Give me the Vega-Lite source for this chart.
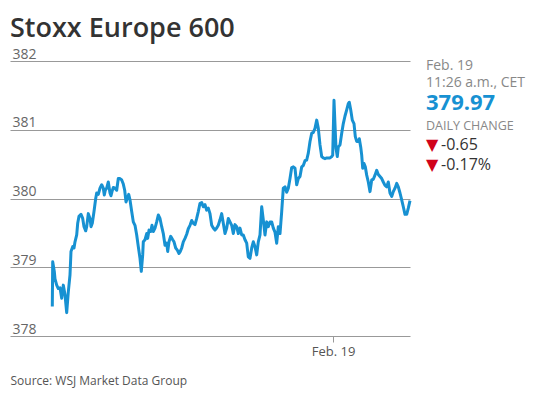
{
  "$schema": "https://vega.github.io/schema/vega-lite/v6.json",
  "padding": {"left": 10, "top": 15, "right": 5, "bottom": 5},
  "background": "white",
  "config": {"view": {"stroke": null}, "font": "Open Sans"},
  "title": {"text": "Stoxx Europe 600", "anchor": "start", "font": "Open Sans", "fontSize": 27, "fontWeight": 600, "color": "#333333", "baseline": "alphabetic", "offset": -17},
  "spacing": 14,
  "hconcat": [
    {
      "width": 400,
      "height": 275,
      "data": {"values": [
        {"t": 42.3, "v": 378.43}, {"t": 42.7, "v": 379.08}, {"t": 44.3, "v": 378.94}, {"t": 45.0, "v": 378.83}, {"t": 46.7, "v": 378.74}, {"t": 48.3, "v": 378.69}, {"t": 50.0, "v": 378.70}, {"t": 51.7, "v": 378.55}, {"t": 53.3, "v": 378.74}, {"t": 55.0, "v": 378.60}, {"t": 56.7, "v": 378.34}, {"t": 58.3, "v": 378.64}, {"t": 60.0, "v": 378.89}, {"t": 61.0, "v": 379.23}, {"t": 62.7, "v": 379.30}, {"t": 64.0, "v": 379.28}, {"t": 65.0, "v": 379.37}, {"t": 66.7, "v": 379.47}, {"t": 67.7, "v": 379.64}, {"t": 69.0, "v": 379.74}, {"t": 71.0, "v": 379.77}, {"t": 72.7, "v": 379.71}, {"t": 74.0, "v": 379.59}, {"t": 75.7, "v": 379.53}, {"t": 76.7, "v": 379.59}, {"t": 78.3, "v": 379.78}, {"t": 80.0, "v": 379.71}, {"t": 81.0, "v": 379.59}, {"t": 82.3, "v": 379.64}, {"t": 84.0, "v": 379.81}, {"t": 85.7, "v": 380.00}, {"t": 86.7, "v": 380.08}, {"t": 88.3, "v": 380.06}, {"t": 90.0, "v": 380.15}, {"t": 91.7, "v": 380.20}, {"t": 93.3, "v": 380.15}, {"t": 94.3, "v": 380.05}, {"t": 95.3, "v": 380.12}, {"t": 96.7, "v": 380.15}, {"t": 98.3, "v": 380.24}, {"t": 100.0, "v": 380.08}, {"t": 101.0, "v": 380.04}, {"t": 102.0, "v": 380.10}, {"t": 103.3, "v": 380.16}, {"t": 105.0, "v": 380.15}, {"t": 106.7, "v": 380.12}, {"t": 108.3, "v": 380.29}, {"t": 110.0, "v": 380.29}, {"t": 111.7, "v": 380.27}, {"t": 113.3, "v": 380.21}, {"t": 114.7, "v": 380.12}, {"t": 116.0, "v": 379.95}, {"t": 117.3, "v": 380.00}, {"t": 118.7, "v": 380.06}, {"t": 120.0, "v": 379.98}, {"t": 121.7, "v": 379.81}, {"t": 123.3, "v": 379.66}, {"t": 125.0, "v": 379.61}, {"t": 126.7, "v": 379.47}, {"t": 128.3, "v": 379.30}, {"t": 130.0, "v": 379.13}, {"t": 131.3, "v": 378.94}, {"t": 132.7, "v": 379.18}, {"t": 133.3, "v": 379.37}, {"t": 135.0, "v": 379.40}, {"t": 136.7, "v": 379.49}, {"t": 137.7, "v": 379.42}, {"t": 139.0, "v": 379.54}, {"t": 140.7, "v": 379.52}, {"t": 142.0, "v": 379.61}, {"t": 143.3, "v": 379.52}, {"t": 145.0, "v": 379.57}, {"t": 146.7, "v": 379.66}, {"t": 148.3, "v": 379.76}, {"t": 150.0, "v": 379.71}, {"t": 151.7, "v": 379.59}, {"t": 153.3, "v": 379.49}, {"t": 155.0, "v": 379.32}, {"t": 156.7, "v": 379.35}, {"t": 157.7, "v": 379.23}, {"t": 159.0, "v": 379.37}, {"t": 160.7, "v": 379.45}, {"t": 162.7, "v": 379.40}, {"t": 164.0, "v": 379.37}, {"t": 165.7, "v": 379.28}, {"t": 167.3, "v": 379.25}, {"t": 169.0, "v": 379.20}, {"t": 170.3, "v": 379.23}, {"t": 171.7, "v": 379.28}, {"t": 173.3, "v": 379.37}, {"t": 175.0, "v": 379.42}, {"t": 176.7, "v": 379.48}, {"t": 178.3, "v": 379.56}, {"t": 180.0, "v": 379.61}, {"t": 181.7, "v": 379.68}, {"t": 183.3, "v": 379.64}, {"t": 185.0, "v": 379.62}, {"t": 186.7, "v": 379.71}, {"t": 188.3, "v": 379.81}, {"t": 190.0, "v": 379.93},
        {"t": 191.7, "v": 379.94}, {"t": 193.3, "v": 379.88}, {"t": 195.0, "v": 379.91}, {"t": 196.7, "v": 379.83}, {"t": 198.3, "v": 379.86}, {"t": 200.0, "v": 379.78}, {"t": 201.7, "v": 379.61}, {"t": 203.3, "v": 379.57}, {"t": 205.0, "v": 379.54}, {"t": 206.7, "v": 379.57}, {"t": 208.3, "v": 379.61}, {"t": 210.0, "v": 379.69}, {"t": 211.7, "v": 379.78}, {"t": 213.3, "v": 379.64}, {"t": 215.0, "v": 379.49}, {"t": 216.7, "v": 379.57}, {"t": 218.3, "v": 379.71}, {"t": 220.0, "v": 379.66}, {"t": 221.7, "v": 379.61}, {"t": 223.3, "v": 379.49}, {"t": 225.0, "v": 379.62}, {"t": 226.7, "v": 379.59}, {"t": 228.3, "v": 379.49}, {"t": 230.0, "v": 379.57}, {"t": 231.7, "v": 379.47}, {"t": 233.3, "v": 379.47}, {"t": 235.0, "v": 379.40}, {"t": 236.7, "v": 379.35}, {"t": 238.3, "v": 379.15}, {"t": 240.0, "v": 379.13}, {"t": 241.7, "v": 379.28}, {"t": 243.3, "v": 379.37}, {"t": 245.0, "v": 379.30}, {"t": 246.7, "v": 379.18}, {"t": 248.3, "v": 379.37}, {"t": 250.0, "v": 379.47}, {"t": 251.7, "v": 379.88}, {"t": 253.3, "v": 379.69}, {"t": 255.0, "v": 379.47}, {"t": 256.7, "v": 379.66}, {"t": 258.3, "v": 379.59}, {"t": 260.0, "v": 379.66}, {"t": 261.7, "v": 379.66}, {"t": 263.3, "v": 379.57}, {"t": 265.0, "v": 379.51}, {"t": 266.7, "v": 379.35}, {"t": 268.3, "v": 379.59}, {"t": 270.0, "v": 379.49}, {"t": 271.7, "v": 379.81}, {"t": 273.3, "v": 380.15}, {"t": 275.0, "v": 380.17}, {"t": 276.7, "v": 380.09}, {"t": 278.3, "v": 380.15}, {"t": 280.0, "v": 380.29}, {"t": 281.7, "v": 380.45}, {"t": 283.3, "v": 380.46}, {"t": 285.0, "v": 380.44}, {"t": 286.7, "v": 380.20}, {"t": 288.3, "v": 380.29}, {"t": 290.0, "v": 380.32}, {"t": 291.7, "v": 380.46}, {"t": 293.3, "v": 380.48}, {"t": 295.0, "v": 380.55}, {"t": 296.7, "v": 380.56}, {"t": 298.3, "v": 380.66}, {"t": 300.0, "v": 380.83}, {"t": 301.7, "v": 380.95}, {"t": 303.3, "v": 380.96}, {"t": 305.0, "v": 381.02}, {"t": 306.7, "v": 381.14}, {"t": 308.3, "v": 381.02}, {"t": 310.0, "v": 380.78}, {"t": 311.7, "v": 380.61}, {"t": 313.3, "v": 380.59}, {"t": 315.0, "v": 380.58}, {"t": 316.7, "v": 380.59}, {"t": 318.3, "v": 380.59}, {"t": 320.0, "v": 380.59}, {"t": 321.7, "v": 380.61}, {"t": 322.7, "v": 380.63}, {"t": 324.0, "v": 381.43}, {"t": 325.0, "v": 381.07}, {"t": 326.0, "v": 380.73}, {"t": 327.3, "v": 380.61}, {"t": 328.3, "v": 380.75}, {"t": 330.0, "v": 380.78}, {"t": 331.7, "v": 380.95}, {"t": 333.3, "v": 381.09}, {"t": 335.0, "v": 381.20}, {"t": 336.7, "v": 381.29}, {"t": 338.3, "v": 381.38}, {"t": 339.3, "v": 381.40}, {"t": 340.7, "v": 381.29}, {"t": 342.3, "v": 381.14}, {"t": 344.0, "v": 381.09}, {"t": 345.3, "v": 380.90}, {"t": 346.7, "v": 380.83}, {"t": 348.3, "v": 380.83}, {"t": 349.3, "v": 380.87}, {"t": 350.7, "v": 380.75}, {"t": 351.7, "v": 380.63}, {"t": 352.7, "v": 380.44}, {"t": 354.0, "v": 380.51}, {"t": 355.3, "v": 380.46}, {"t": 356.7, "v": 380.34}, {"t": 358.3, "v": 380.24}, {"t": 360.0, "v": 380.10}, {"t": 361.7, "v": 380.27}, {"t": 363.3, "v": 380.28}, {"t": 365.0, "v": 380.34}, {"t": 366.7, "v": 380.41}, {"t": 368.3, "v": 380.35}, {"t": 370.0, "v": 380.32}, {"t": 371.7, "v": 380.29}, {"t": 373.3, "v": 380.24}, {"t": 375.0, "v": 380.19}, {"t": 376.7, "v": 380.17}, {"t": 378.3, "v": 380.24}, {"t": 380.0, "v": 380.08}, {"t": 381.7, "v": 380.03}, {"t": 383.3, "v": 380.10}, {"t": 385.0, "v": 380.15}, {"t": 386.7, "v": 380.22}, {"t": 388.3, "v": 380.17}, {"t": 390.0, "v": 380.08}, {"t": 391.7, "v": 379.98}, {"t": 393.3, "v": 379.88}, {"t": 395.0, "v": 379.77}, {"t": 396.7, "v": 379.77}, {"t": 398.3, "v": 379.86}, {"t": 400.0, "v": 379.97}
      ]},
      "mark": {"type": "line", "color": "#1791d2", "strokeWidth": 3, "strokeJoin": "round"},
      "encoding": {
        "x": {"field": "t", "type": "quantitative", "scale": {"domain": [0, 400], "nice": false},
          "axis": {"values": [323], "labelExpr": "'Feb. 19'", "grid": false, "domain": false, "ticks": true, "tickSize": 6, "tickColor": "#999999", "labelFont": "Open Sans", "labelFontSize": 13, "labelColor": "#555555", "labelPadding": 3,
            "title": "Source: WSJ Market Data Group", "titleX": 0, "titleY": 48, "titleAlign": "left", "titleAnchor": "start", "titleBaseline": "alphabetic", "titleFont": "Open Sans", "titleFontSize": 12, "titleFontWeight": "normal", "titleColor": "#555555"}},
        "y": {"field": "v", "type": "quantitative", "scale": {"domain": [378, 382], "nice": false, "zero": false},
          "axis": {"values": [378, 379, 380, 381, 382], "grid": true, "gridColor": "#999999", "gridWidth": 1, "domain": false, "ticks": false, "labelAlign": "left", "labelBaseline": "bottom", "labelPadding": -2, "labelFont": "Open Sans", "labelFontSize": 14, "labelColor": "#666666", "title": null}}
      }
    },
    {
      "width": 125,
      "height": 275,
      "data": {"values": [
        {"line": 1, "text": "Feb. 19", "kind": "date"},
        {"line": 2, "text": "11:26 a.m., CET", "kind": "time"},
        {"line": 3, "text": "379.97", "kind": "last"},
        {"line": 4, "text": "DAILY CHANGE", "kind": "label"},
        {"line": 5, "text": "-0.65", "kind": "change"},
        {"line": 6, "text": "-0.17%", "kind": "change"}
      ]},
      "encoding": {
        "y": {"field": "line", "type": "ordinal", "scale": {"type": "point", "range": [9, 109], "padding": 0}, "axis": null},
        "x": {"datum": 0, "type": "quantitative", "scale": {"domain": [0, 1]}, "axis": null}
      },
      "layer": [
        {"transform": [{"filter": "datum.kind == 'date'"}], "mark": {"type": "text", "align": "left", "baseline": "alphabetic", "font": "Open Sans", "fontSize": 14, "color": "#888888"}, "encoding": {"text": {"field": "text"}}},
        {"transform": [{"filter": "datum.kind == 'time'"}], "mark": {"type": "text", "align": "left", "baseline": "alphabetic", "font": "Open Sans", "fontSize": 14, "color": "#888888", "dy": -3}, "encoding": {"text": {"field": "text"}}},
        {"transform": [{"filter": "datum.kind == 'last'"}], "mark": {"type": "text", "align": "left", "baseline": "alphabetic", "font": "Open Sans", "fontSize": 22, "fontWeight": "bold", "color": "#1791d2"}, "encoding": {"text": {"field": "text"}}},
        {"transform": [{"filter": "datum.kind == 'label'"}], "mark": {"type": "text", "align": "left", "baseline": "alphabetic", "font": "Open Sans", "fontSize": 12.5, "color": "#888888"}, "encoding": {"text": {"field": "text"}}},
        {"transform": [{"filter": "datum.kind == 'change'"}], "mark": {"type": "text", "align": "left", "baseline": "alphabetic", "font": "DejaVu Sans", "fontSize": 16, "color": "#d0021b", "text": "▼", "dx": 0}},
        {"transform": [{"filter": "datum.kind == 'change'"}], "mark": {"type": "text", "align": "left", "baseline": "alphabetic", "font": "Open Sans", "fontSize": 16, "color": "#333333", "dx": 15}, "encoding": {"text": {"field": "text"}}}
      ]
    }
  ]
}
